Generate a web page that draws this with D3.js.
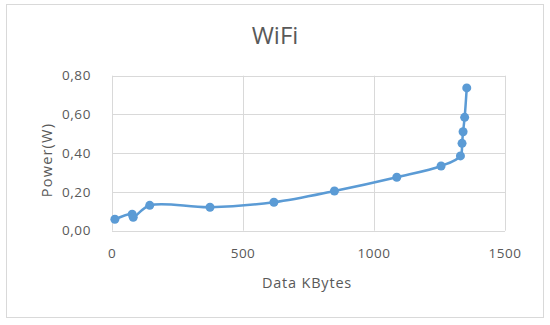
<!DOCTYPE html>
<html>
<meta charset="UTF-8" />
<script src="https://cdn.jsdelivr.net/npm/d3@7/dist/d3.min.js"></script>
<style>
*{margin:0; padding:0;}
body{background:#ffffff;}
</style>
<body>
<div id="chart"></div>
<script>
// data
var kbytes = [11, 77, 81, 144, 374, 618, 849, 1087, 1256, 1330, 1336, 1340, 1346, 1354];
var power  = [0.059, 0.085, 0.069, 0.131, 0.121, 0.147, 0.205, 0.276, 0.334, 0.386, 0.451, 0.511, 0.585, 0.737];
var xTicks = [0, 500, 1000, 1500];
var yTicks = [0, 0.2, 0.4, 0.6, 0.8];
var title = "WiFi";
var xTitle = "Data KBytes";
var yTitle = "Power(W)";

var width = 550, height = 325;
// note: "top" is window.top, so use other names
var plotL = 112, plotR = 505, plotT = 75.7, plotB = 230.7;
var font = "'Open Sans', 'Liberation Sans', sans-serif";
var grey = "#595959";

var svg = d3.select("#chart").append("svg")
	.attr("width", width)
	.attr("height", height);

// chart frame
svg.append("rect")
	.attr("x", 6.5).attr("y", 4.5)
	.attr("width", 537).attr("height", 313)
	.attr("fill", "#fff")
	.attr("stroke", "#d9d9d9");

var x = d3.scaleLinear().domain([0, 1500]).range([plotL, plotR]);
var y = d3.scaleLinear().domain([0, 0.8]).range([plotB, plotT]);

// grid
svg.selectAll(".hg").data(yTicks).enter().append("line")
	.attr("x1", plotL).attr("x2", plotR)
	.attr("y1", d => Math.round(y(d)) + 0.5).attr("y2", d => Math.round(y(d)) + 0.5)
	.attr("stroke", "#d9d9d9");
svg.selectAll(".vg").data(xTicks).enter().append("line")
	.attr("y1", plotT).attr("y2", plotB)
	.attr("x1", d => Math.round(x(d)) + 0.5).attr("x2", d => Math.round(x(d)) + 0.5)
	.attr("stroke", "#d9d9d9");

// tick labels
svg.selectAll(".yl").data(yTicks).enter().append("text")
	.attr("x", 91).attr("y", d => y(d))
	.attr("dy", "0.35em")
	.attr("text-anchor", "end")
	.style("font-family", font).style("font-size", "13.5px").style("fill", grey)
	.style("letter-spacing", "0.6px")
	.text(d => d3.format(".2f")(d).replace(".", ","));
svg.selectAll(".xl").data(xTicks).enter().append("text")
	.attr("x", d => x(d)).attr("y", 253)
	.attr("dy", "0.35em")
	.attr("text-anchor", "middle")
	.style("font-family", font).style("font-size", "13.5px").style("fill", grey)
	.style("letter-spacing", "0.5px")
	.text(d => d);

// titles
svg.append("text")
	.attr("x", 275).attr("y", 44)
	.attr("text-anchor", "middle")
	.style("font-family", font).style("font-size", "24px").style("fill", grey)
	.text(title);
svg.append("text")
	.attr("x", 307).attr("y", 283)
	.attr("dy", "0.35em")
	.attr("text-anchor", "middle")
	.style("font-family", font).style("font-size", "14.5px").style("fill", grey)
	.style("letter-spacing", "0.8px")
	.text(xTitle);
svg.append("text")
	.attr("transform", "translate(47,160) rotate(-90)")
	.attr("dy", "0.35em")
	.attr("text-anchor", "middle")
	.style("font-family", font).style("font-size", "14.5px").style("fill", grey)
	.style("letter-spacing", "1.2px")
	.text(yTitle);

// series
var pts = kbytes.map((k, i) => [k, power[i]]);
var line = d3.line()
	.x(d => x(d[0])).y(d => y(d[1]))
	.curve(d3.curveCatmullRom.alpha(0.5));
svg.append("path")
	.datum(pts)
	.attr("d", line)
	.attr("fill", "none")
	.attr("stroke", "#5b9bd5")
	.attr("stroke-width", 2.5);
svg.selectAll(".pt").data(pts).enter().append("circle")
	.attr("cx", d => x(d[0])).attr("cy", d => y(d[1]))
	.attr("r", 4.5)
	.attr("fill", "#5b9bd5");
</script>
</body>
</html>
